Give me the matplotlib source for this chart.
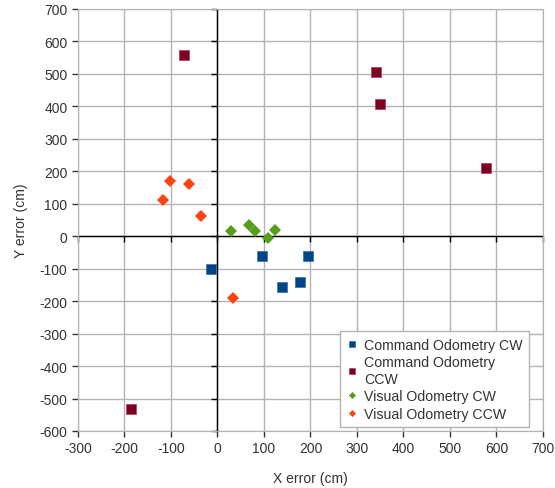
import matplotlib
matplotlib.use("Agg")
import matplotlib.pyplot as plt

# Erreurs de position finale (cm)
cmd_cw_x = [-14, 96, 194, 138, 177]
cmd_cw_y = [-102, -62, -62, -155, -142]

cmd_ccw_x = [-71, 341, 350, 577, -187]
cmd_ccw_y = [557, 506, 408, 209, -532]

vis_cw_x = [29, 68, 81, 109, 123]
vis_cw_y = [16, 35, 16, -5, 19]

vis_ccw_x = [-118, -103, -61, -36, 34]
vis_ccw_y = [112, 169, 162, 61, -190]

x_ticks = list(range(-300, 701, 100))
y_ticks = list(range(-600, 701, 100))

plt.rcParams['font.family'] = ['Liberation Sans', 'DejaVu Sans']
plt.rcParams['font.size'] = 10
plt.rcParams['axes.unicode_minus'] = False
text_color = "#333333"

fig = plt.figure(figsize=(5.55, 4.89), dpi=100)
ax = fig.add_axes([0.1405, 0.1166, 0.8378, 0.863])

ax.set_xlim(-300, 700)
ax.set_ylim(-600, 700)
ax.set_xticks(x_ticks)
ax.set_yticks(y_ticks)
ax.grid(True, color="#b3b3b3", linewidth=1)
ax.set_axisbelow(True)
for side in ["top", "right", "left", "bottom"]:
    ax.spines[side].set_color("#b3b3b3")
ax.tick_params(axis="both", colors="#333333", length=4, width=1,
               labelcolor=text_color, labelsize=10)

# axes passant par zero, avec leurs graduations
ax.axhline(0, color="black", linewidth=1, zorder=2)
ax.axvline(0, color="black", linewidth=1, zorder=2)
ax.plot(x_ticks, [0] * len(x_ticks), linestyle="none", marker=3,
        markersize=4, color="black", zorder=2, clip_on=False)
ax.plot([0] * len(y_ticks), y_ticks, linestyle="none", marker=0,
        markersize=4, color="black", zorder=2, clip_on=False)

ax.plot(cmd_cw_x, cmd_cw_y, "s", color="#004586", markersize=7.5,
        markeredgewidth=0.5, markeredgecolor="#3a6fa3", label="Command Odometry CW", zorder=3)
ax.plot(cmd_ccw_x, cmd_ccw_y, "s", color="#7e0021", markersize=7.5,
        markeredgewidth=0.5, markeredgecolor="#a5415c", label="Command Odometry\nCCW", zorder=3)
ax.plot(vis_cw_x, vis_cw_y, "D", color="#579d1c", markersize=6,
        markeredgewidth=0, label="Visual Odometry CW", zorder=3)
ax.plot(vis_ccw_x, vis_ccw_y, "D", color="#ff420e", markersize=6,
        markeredgewidth=0, label="Visual Odometry CCW", zorder=3)

ax.set_xlabel("X error (cm)", color=text_color, fontsize=10, labelpad=11)
ax.set_ylabel("Y error (cm)", color=text_color, fontsize=10, labelpad=8)

leg = ax.legend(loc="lower right", bbox_to_anchor=(0.970, 0.0095), borderaxespad=0,
                frameon=True, fancybox=False, framealpha=1, edgecolor="#b3b3b3",
                markerscale=0.6, handlelength=0.8, handletextpad=0.45,
                borderpad=0.45, labelspacing=0.25, fontsize=10.2)
leg.get_frame().set_linewidth(1)
for t in leg.get_texts():
    t.set_color(text_color)

fig.savefig("out.png", dpi=100)
